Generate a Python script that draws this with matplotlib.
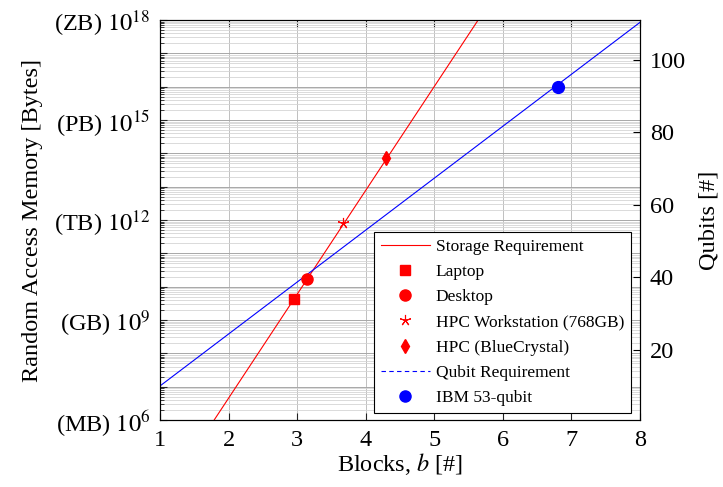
import numpy as np
import matplotlib
matplotlib.use("Agg")
import matplotlib.pyplot as plt
from matplotlib.lines import Line2D
from matplotlib.ticker import FixedLocator, FixedFormatter, LogLocator, NullFormatter

plt.rcParams['font.family'] = 'Liberation Serif'
plt.rcParams['mathtext.fontset'] = 'stix'

# storage requirement line (endpoints)
storage_blocks = [1.79, 5.64]
storage_bytes = [1e6, 1e18]

# qubit requirement line
qubit_blocks = [1.0, 8.0]
qubit_bytes = [1.05e7, 8.5e17]

# hardware points
laptop = (2.95, 4.3e9)
desktop = (3.14, 1.72e10)
workstation = (3.67, 8.0e11)
bluecrystal = (4.30, 7.0e13)
ibm = (6.80, 1.0e16)

mem_ticks = [1e6, 1e9, 1e12, 1e15, 1e18]
mem_labels = ['(MB) $10^{6}$', '(GB) $10^{9}$', '(TB) $10^{12}$',
              '(PB) $10^{15}$', '(ZB) $10^{18}$']
qubit_ticks = [20, 40, 60, 80, 100]
block_ticks = [1, 2, 3, 4, 5, 6, 7, 8]

fig = plt.figure(figsize=(7.23, 4.87), dpi=100)
ax = fig.add_axes([160/723, 67/487, 480/723, 400/487])

ax.set_xlim(1, 8)
ax.set_yscale('log')
ax.set_ylim(1e6, 1e18)

# grid: major line every decade, labels only every third
ax.set_xticks(block_ticks)
decades = [10.0**k for k in range(6, 19)]
ax.yaxis.set_major_locator(FixedLocator(decades))
lab = []
for d in decades:
    if d in mem_ticks:
        lab.append(mem_labels[mem_ticks.index(d)])
    else:
        lab.append('')
ax.yaxis.set_major_formatter(FixedFormatter(lab))
ax.yaxis.set_minor_locator(LogLocator(base=10, subs=np.arange(2, 10), numticks=100))
ax.yaxis.set_minor_formatter(NullFormatter())
ax.grid(True, which='major', axis='y', color='#a8a8a8', lw=0.7)
ax.grid(True, which='minor', axis='y', color='#d4d4d4', lw=0.6)
ax.grid(True, which='major', axis='x', color='#c0c0c0', lw=0.7)
ax.set_axisbelow(True)

star = (5, 2, 0)  # 5-arm asterisk like the pgf star
ax.plot(storage_blocks, storage_bytes, color='red', lw=0.8, zorder=3)
ax.plot(qubit_blocks, qubit_bytes, color='blue', lw=0.8, zorder=3)
ax.plot(*laptop, ls='none', marker='s', color='red', ms=7, zorder=4)
ax.plot(*desktop, ls='none', marker='o', color='red', ms=8, zorder=4)
ax.plot(*workstation, ls='none', marker=star, color='red', ms=8, mew=0.8, zorder=4)
ax.plot(*bluecrystal, ls='none', marker='d', color='red', ms=7, zorder=4)
ax.plot(*ibm, ls='none', marker='o', color='blue', ms=8.5, zorder=4)

ax.tick_params(which='both', direction='in', top=True, right=True, labelsize=17.5, color='#222222')
ax.tick_params(which='major', length=5, pad=7)
ax.tick_params(which='minor', length=3)
ax.set_xlabel('Blocks, $b$ [#]', fontsize=17.5, labelpad=0)
ax.set_ylabel('Random Access Memory [Bytes]', fontsize=17.5, labelpad=8)
for s in ax.spines.values():
    s.set_linewidth(0.8)

ax2 = ax.twinx()
ax2.set_ylim(0.7, 111)
ax2.set_yticks(qubit_ticks)
ax2.tick_params(direction='in', length=5, labelsize=17.5, pad=7)
ax2.set_ylabel('Qubits [#]', fontsize=17.5, labelpad=9)

handles = [
    Line2D([], [], color='red', lw=0.8),
    Line2D([], [], ls='none', marker='s', color='red', ms=7),
    Line2D([], [], ls='none', marker='o', color='red', ms=8),
    Line2D([], [], ls='none', marker=star, color='red', ms=8, mew=0.8),
    Line2D([], [], ls='none', marker='d', color='red', ms=7),
    Line2D([], [], color='blue', lw=0.8, ls=(0, (4, 3))),
    Line2D([], [], ls='none', marker='o', color='blue', ms=8),
]
labels = ['Storage Requirement', 'Laptop', 'Desktop', 'HPC Workstation (768GB)',
          'HPC (BlueCrystal)', 'Qubit Requirement', 'IBM 53-qubit']
leg = ax2.legend(handles, labels, loc='lower right', bbox_to_anchor=(631/723, 74/487),
                 bbox_transform=fig.transFigure, fontsize=12.5, frameon=True, fancybox=False,
                 edgecolor='black', framealpha=1, labelspacing=0.52, handlelength=2.8,
                 borderpad=0.4, handletextpad=0.35, borderaxespad=0)
leg.get_frame().set_linewidth(0.8)

fig.savefig('out.png', dpi=100)
